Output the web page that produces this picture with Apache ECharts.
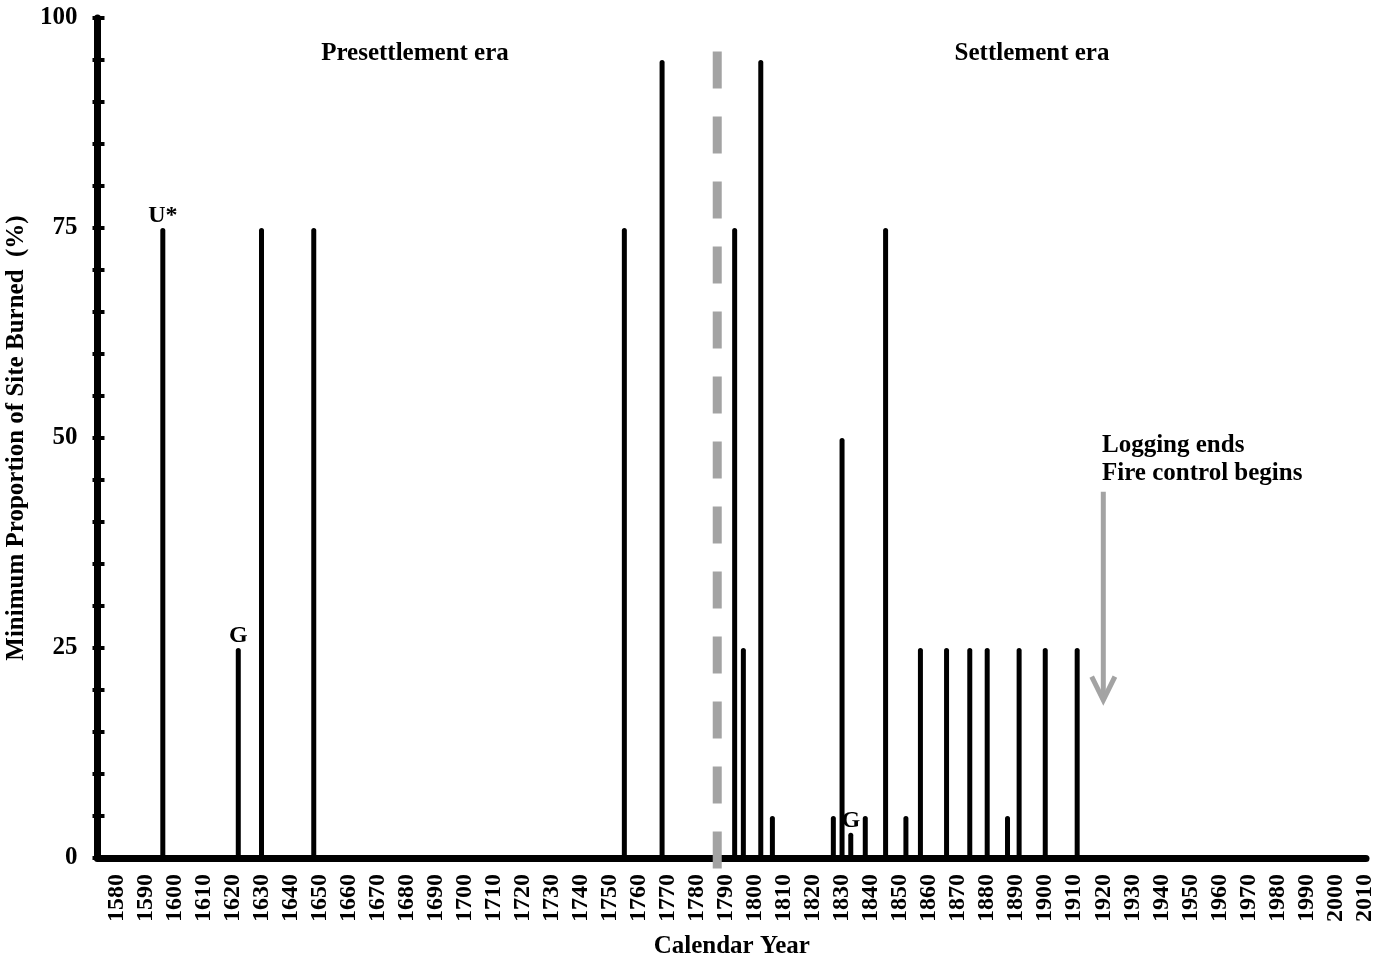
<!DOCTYPE html>
<html>
<head>
<meta charset="utf-8">
<script src="https://cdn.jsdelivr.net/npm/echarts@6/dist/echarts.min.js"></script>
<style>
html,body{margin:0;padding:0;background:#fff;}
#chart{width:1390px;height:957px;}
</style>
</head>
<body>
<div id="chart"></div>
<script>
// ---- data ----
const fireYears  = [1596, 1622, 1630, 1648, 1755, 1768, 1793, 1796, 1802, 1806, 1827, 1830, 1833, 1838, 1845, 1852, 1857, 1866, 1874, 1880, 1887, 1891, 1900, 1911];
const siteBurned = [75,   25,   75,   75,   75,   95,   75,   25,   95,   5,    5,    50,   3,    5,    75,   5,    25,   25,   25,   25,   5,    25,   25,   25];
const labelYears = [1596, 1622, 1833];
const labelTexts = ['U*', 'G', 'G'];
const settlementYear = 1787;
const loggingEndYear = 1920;
const arrowTop = 43.6;
const arrowTip = 18.8;
const xTickLabels = [1580, 1590, 1600, 1610, 1620, 1630, 1640, 1650, 1660, 1670, 1680, 1690, 1700, 1710, 1720, 1730, 1740, 1750, 1760, 1770, 1780, 1790, 1800, 1810, 1820, 1830, 1840, 1850, 1860, 1870, 1880, 1890, 1900, 1910, 1920, 1930, 1940, 1950, 1960, 1970, 1980, 1990, 2000, 2010];
const yTickLabels = [0, 25, 50, 75, 100];
const eraTitles = ['Presettlement era', 'Settlement era'];
const noteLines = ['Logging ends', 'Fire control begins'];

const FONT = '"Liberation Serif", "Times New Roman", serif';

const barData = fireYears.map(function (y, i) {
  const k = labelYears.indexOf(y);
  const item = { value: [y, siteBurned[i]] };
  if (k >= 0) {
    item.label = { show: true, formatter: labelTexts[k], position: 'top', distance: 0,
      fontFamily: FONT, fontWeight: 'bold', fontSize: 24, color: '#000' };
  }
  return item;
});

const chart = echarts.init(document.getElementById('chart'), null, { renderer: 'canvas' });
const option = {
  backgroundColor: '#ffffff',
  animation: false,
  grid: { left: 97.5, right: 24, top: 18, bottom: 99, containLabel: false, outerBoundsMode: 'none' },
  xAxis: {
    type: 'value', min: 1573.5, max: 2010.5,
    name: 'Calendar Year', nameLocation: 'middle', nameGap: 76,
    nameTextStyle: { fontFamily: FONT, fontWeight: 'bold', fontSize: 25, color: '#000' },
    axisLine: { show: true, lineStyle: { color: '#000', width: 7 } },
    axisTick: { show: false },
    splitLine: { show: false },
    axisLabel: { customValues: xTickLabels, rotate: 90, margin: 16,
      formatter: function (v) { return String(v); },
      fontFamily: FONT, fontWeight: 'bold', fontSize: 24, color: '#000' }
  },
  yAxis: [{
    type: 'value', min: 0, max: 100, interval: 5,
    name: 'Minimum Proportion of Site Burned  (%)', nameLocation: 'middle', nameGap: 63,
    nameTextStyle: { fontFamily: FONT, fontWeight: 'bold', fontSize: 25, color: '#000' },
    axisLine: { show: true, lineStyle: { color: '#000', width: 7 } },
    axisTick: { show: true, inside: false, length: 5, lineStyle: { color: '#000', width: 4 } },
    splitLine: { show: false },
    axisLabel: { margin: 20, fontFamily: FONT, fontWeight: 'bold', fontSize: 25, color: '#000',
      formatter: function (v) { return yTickLabels.indexOf(v) >= 0 ? String(v) : ''; } }
  }, {
    type: 'value', min: 0, max: 100, interval: 5, position: 'left',
    axisLine: { show: false },
    axisTick: { show: true, inside: true, length: 7, lineStyle: { color: '#000', width: 4 } },
    axisLabel: { show: false },
    splitLine: { show: false }
  }],
  series: [{
    type: 'bar', name: 'burned', barWidth: 5, data: barData,
    itemStyle: { color: '#000', borderRadius: [2.5, 2.5, 0, 0] }, z: 3
  }, {
    type: 'line', name: 'settlement', symbol: 'none', clip: false, z: 4,
    data: [[settlementYear, -1.25], [settlementYear, 97.5]],
    lineStyle: { color: '#a3a3a3', width: 9, type: [37, 28], cap: 'butt' }
  }, {
    type: 'line', name: 'arrowShaft', symbol: 'none', clip: false, z: 4,
    data: [[loggingEndYear, arrowTop], [loggingEndYear, arrowTip]],
    lineStyle: { color: '#a3a3a3', width: 5, cap: 'butt' }
  }, {
    type: 'line', name: 'arrowHead', symbol: 'none', clip: false, z: 4,
    data: [[loggingEndYear - 4, arrowTip + 2.8], [loggingEndYear, arrowTip], [loggingEndYear + 4, arrowTip + 2.8]],
    lineStyle: { color: '#a3a3a3', width: 5, cap: 'butt', join: 'miter' }
  }],
  graphic: [
    { type: 'text', x: 415, y: 54, style: { text: eraTitles[0], align: 'center', verticalAlign: 'middle',
      font: 'bold 25px ' + FONT, fill: '#000' } },
    { type: 'text', x: 1032, y: 54, style: { text: eraTitles[1], align: 'center', verticalAlign: 'middle',
      font: 'bold 25px ' + FONT, fill: '#000' } },
    { type: 'text', x: 1102, y: 446, style: { text: noteLines[0], align: 'left', verticalAlign: 'middle',
      font: 'bold 25px ' + FONT, fill: '#000' } },
    { type: 'text', x: 1102, y: 474, style: { text: noteLines[1], align: 'left', verticalAlign: 'middle',
      font: 'bold 25px ' + FONT, fill: '#000' } }
  ]
};
chart.setOption(option);
</script>
</body>
</html>
